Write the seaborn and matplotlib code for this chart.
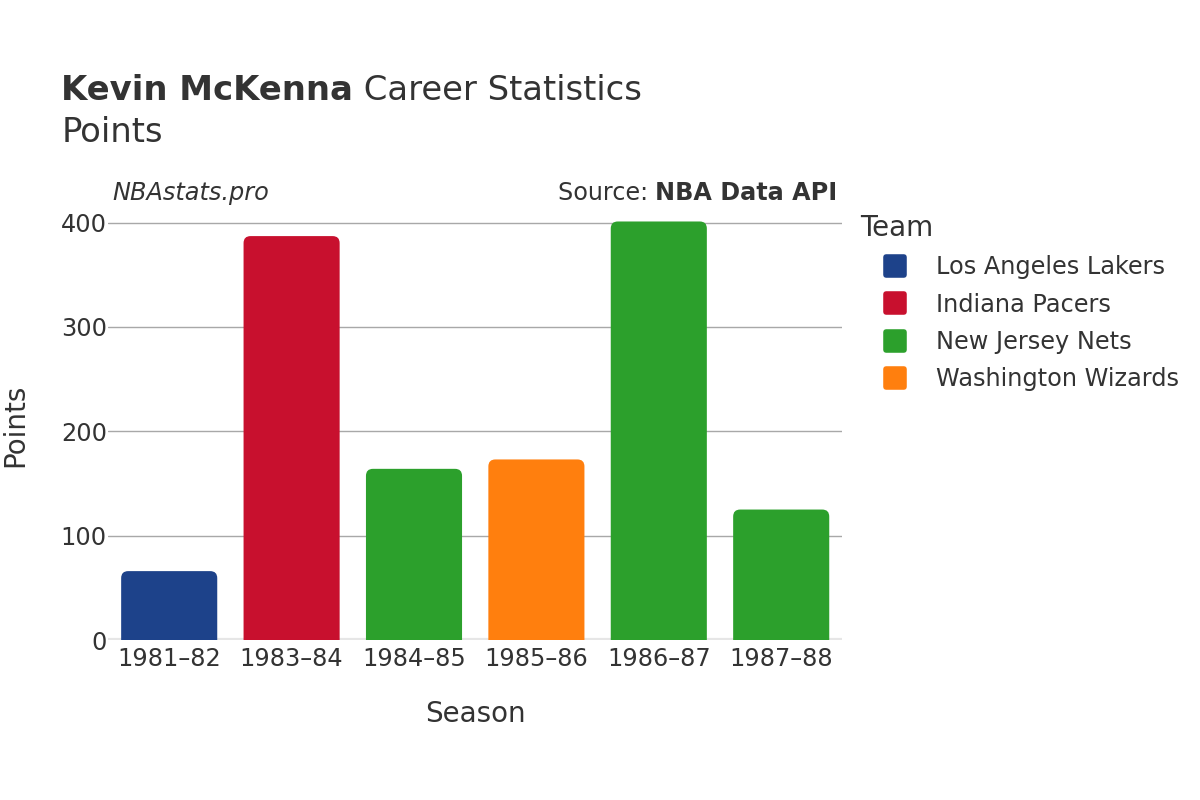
import matplotlib
matplotlib.use("Agg")
import matplotlib.pyplot as plt
import pandas as pd
import seaborn as sns
from matplotlib.lines import Line2D
from matplotlib.markers import MarkerStyle
from matplotlib.patches import FancyBboxPatch

seasons = ["1981–82", "1983–84", "1984–85", "1985–86", "1986–87", "1987–88"]
teams = ["Los Angeles Lakers", "Indiana Pacers", "New Jersey Nets",
         "Washington Wizards", "New Jersey Nets", "New Jersey Nets"]
points = [66, 387, 164, 173, 401, 125]

team_order = ["Los Angeles Lakers", "Indiana Pacers", "New Jersey Nets", "Washington Wizards"]
team_colors = ["#1d428a", "#c8102e", "#2ca02c", "#ff7f0e"]

TEXT = "#333333"

df = pd.DataFrame({"Season": seasons, "Team": teams, "Points": points})

sns.set_theme(style="white")
plt.rcParams["font.family"] = ["DejaVu Sans"]

fig = plt.figure(figsize=(12, 8), dpi=100)
ax = fig.add_axes([0.09, 0.2, 0.612, 0.5375])

palette = dict(zip(team_order, team_colors))
sns.barplot(data=df, x="Season", y="Points", hue="Team", hue_order=team_order,
            palette=palette, dodge=False, width=0.785, saturation=1,
            legend=False, ax=ax)

ax.set_xlim(-0.5, len(seasons) - 0.5)
ax.set_ylim(0, 412)

# swap plain rectangles for rounded-top bars
px_x = 1 / 122.4
px_y = 1 / 1.042
r = 7 * px_x
for p in list(ax.patches):
    if p.get_height() <= 0 or not p.get_visible():
        continue
    x0, w, h = p.get_x(), p.get_width(), p.get_height()
    ext = 8 * px_y
    fb = FancyBboxPatch((x0, -ext), w, h + ext,
                        boxstyle=f"round,pad=0,rounding_size={r}",
                        mutation_aspect=px_y / px_x,
                        facecolor=p.get_facecolor(), edgecolor="none", zorder=3)
    ax.add_patch(fb)
    p.set_visible(False)

ax.set_yticks([0, 100, 200, 300, 400])
ax.yaxis.grid(True, color="#a8a8a8", linewidth=1)
ax.set_axisbelow(True)
for s in ax.spines.values():
    s.set_visible(False)
ax.axhline(0, color="#e6e6e6", linewidth=3, zorder=2)

ax.tick_params(axis="both", length=0, labelsize=17.3, colors=TEXT)
ax.tick_params(axis="x", pad=5)
ax.tick_params(axis="y", pad=0.8)
ax.set_xlabel("Season", fontsize=20, color=TEXT)
ax.set_ylabel("Points", fontsize=20, color=TEXT)
ax.xaxis.set_label_coords(0.5, -0.14)
ax.yaxis.set_label_coords(-0.107, 0.5)

fs_title = 24.4
t1 = fig.text(0.051, 0.875, "Kevin McKenna", fontsize=fs_title, fontweight="bold",
              color=TEXT, va="baseline")
fig.canvas.draw()
b1 = t1.get_window_extent().transformed(fig.transFigure.inverted())
fig.text(b1.x1, 0.875, " Career Statistics", fontsize=fs_title,
         color=TEXT, va="baseline")
fig.text(0.051, 0.822, "Points", fontsize=fs_title, color=TEXT, va="baseline")

fig.text(0.094, 0.7505, "NBAstats.pro", fontsize=17.3, style="italic",
         color=TEXT, va="baseline")
src = fig.text(0.698, 0.7505, "NBA Data API", fontsize=17.2, fontweight="bold",
               color=TEXT, va="baseline", ha="right")
fig.canvas.draw()
bb = src.get_window_extent().transformed(fig.transFigure.inverted())
fig.text(bb.x0, 0.7505, "Source: ", fontsize=17.2, color=TEXT,
         va="baseline", ha="right")

mk = MarkerStyle("s", joinstyle="round")
handles = [Line2D([], [], linestyle="none", marker=mk, markersize=12.5,
                  markeredgewidth=4, markerfacecolor=c, markeredgecolor=c, label=t)
           for t, c in zip(team_order, team_colors)]
leg = fig.legend(handles=handles, title="Team", loc="upper left",
                 bbox_to_anchor=(0.717, 0.733), frameon=False,
                 fontsize=17.3, title_fontsize=20, labelcolor=TEXT,
                 handlelength=2.9, handletextpad=0.25,
                 labelspacing=0.56, borderaxespad=0, borderpad=0)
leg.get_title().set_color(TEXT)
leg._legend_box.align = "left"

fig.savefig("out.png", dpi=100, facecolor="white")
